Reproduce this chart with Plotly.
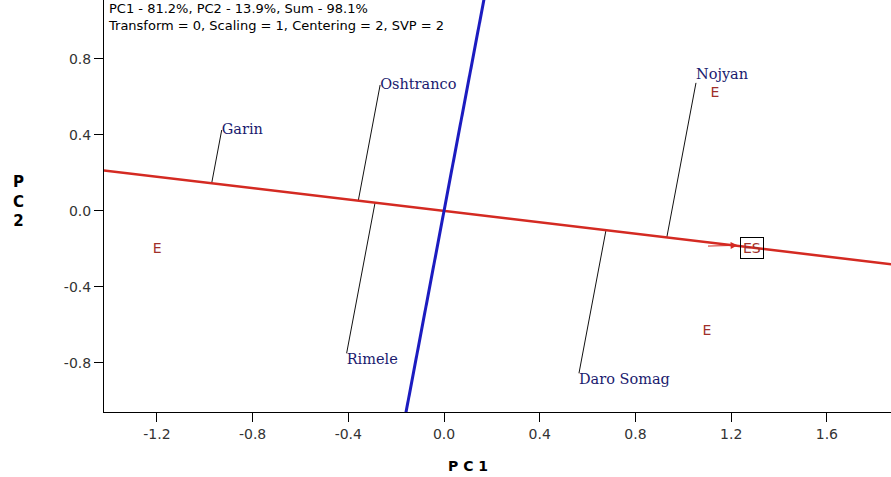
import numpy as np
import plotly.graph_objects as go

# ---------------- data ----------------
pc1_range = [-1.421, 1.868]
pc2_range = [-1.058, 1.11]
x_ticks = [-1.2, -0.8, -0.4, 0.0, 0.4, 0.8, 1.2, 1.6]
y_ticks = [-0.8, -0.4, 0.0, 0.4, 0.8]

genotypes = ["Garin", "Oshtranco", "Nojyan", "Rimele", "Daro Somag"]
gen_pc1 = [-0.929, -0.267, 1.053, -0.407, 0.564]
gen_pc2 = [0.426, 0.663, 0.674, -0.749, -0.854]
gen_textpos = ["middle right", "middle right", "top right", "bottom right", "bottom right"]

env_labels = ["E", "E", "E"]
env_pc1 = [1.132, -1.199, 1.099]
env_pc2 = [0.620, -0.205, -0.637]

es_label = "ES"
es_pc1 = 1.287
es_pc2 = -0.193

header = "PC1 - 81.2%, PC2 - 13.9%, Sum - 98.1%<br>Transform = 0, Scaling = 1, Centering = 2, SVP = 2"

# ---------------- derived geometry ----------------
d = np.array([es_pc1, es_pc2])
d = d / np.linalg.norm(d)
perp = np.array([-d[1], d[0]])

big = 5.0
red_x = [-big * d[0], big * d[0]]
red_y = [-big * d[1], big * d[1]]
blue_x = [-big * perp[0], big * perp[0]]
blue_y = [-big * perp[1], big * perp[1]]

proj_x, proj_y = [], []
for gx, gy in zip(gen_pc1, gen_pc2):
    t = gx * d[0] + gy * d[1]
    proj_x += [gx, t * d[0], None]
    proj_y += [gy, t * d[1], None]

RED = "#d42a22"
BLUE = "#1c1cc0"
ENV = "#a0302a"

fig = go.Figure()

fig.add_trace(go.Scatter(x=proj_x, y=proj_y, mode="lines",
                         line=dict(color="#111111", width=1), hoverinfo="skip"))
fig.add_trace(go.Scatter(x=red_x, y=red_y, mode="lines",
                         line=dict(color=RED, width=2.5), hoverinfo="skip"))
fig.add_trace(go.Scatter(x=blue_x, y=blue_y, mode="lines",
                         line=dict(color=BLUE, width=3), hoverinfo="skip"))

fig.add_trace(go.Scatter(x=gen_pc1, y=gen_pc2, mode="text", text=genotypes,
                         textposition=gen_textpos,
                         textfont=dict(family="DejaVu Serif", size=14.5, color="#1a1a6e"),
                         hoverinfo="skip"))
fig.add_trace(go.Scatter(x=env_pc1, y=env_pc2, mode="text", text=env_labels,
                         textposition="middle center",
                         textfont=dict(family="DejaVu Sans", size=14, color=ENV),
                         hoverinfo="skip"))

# ES label in a box
fig.add_annotation(x=es_pc1, y=es_pc2, text=es_label, showarrow=False,
                   font=dict(family="DejaVu Sans", size=14, color=ENV),
                   bordercolor="black", borderwidth=1, borderpad=2, bgcolor="rgba(0,0,0,0)")
# arrow pointing to ES
fig.add_annotation(x=es_pc1 - 0.06, y=es_pc2 + 0.012, ax=es_pc1 - 0.19, ay=es_pc2 + 0.008,
                   xref="x", yref="y", axref="x", ayref="y", text="", showarrow=True,
                   arrowhead=2, arrowsize=1.4, arrowwidth=1, arrowcolor=RED)

# header text
fig.add_annotation(x=0.003, y=1.0, xref="paper", yref="paper", xanchor="left", yanchor="top",
                   text=header, showarrow=False, align="left", yshift=1,
                   font=dict(family="DejaVu Sans", size=13, color="black"))

# axis titles
fig.add_annotation(x=0.4625, y=0, xref="paper", yref="paper", yanchor="middle",
                   text="<b>P C 1</b>", showarrow=False, yshift=-54,
                   font=dict(family="DejaVu Sans", size=14, color="black"))
fig.add_annotation(x=0, y=0.05, xref="paper", yref="y", xanchor="center",
                   text="<b>P<br>C<br>2</b>", showarrow=False, xshift=-86,
                   font=dict(family="DejaVu Sans", size=15, color="black"))

axis_common = dict(showgrid=False, zeroline=False, showline=True, linecolor="black",
                   linewidth=1, ticks="outside", ticklen=9, tickcolor="black",
                   automargin=False,
                   tickfont=dict(family="DejaVu Sans", size=14, color="#333333"))
fig.update_xaxes(range=pc1_range, tickvals=x_ticks,
                 ticktext=[f"{v:.1f}" for v in x_ticks], **axis_common)
fig.update_yaxes(range=pc2_range, tickvals=y_ticks,
                 ticktext=[f"{v:.1f}" for v in y_ticks], **axis_common)

fig.update_layout(width=891, height=477, margin=dict(l=104, r=0, t=0, b=65),
                  paper_bgcolor="white", plot_bgcolor="white", showlegend=False)

fig.write_html("out.html", config={"displayModeBar": False},
               post_script="document.body.style.margin='0px';"
                           "document.body.style.overflow='hidden';")
